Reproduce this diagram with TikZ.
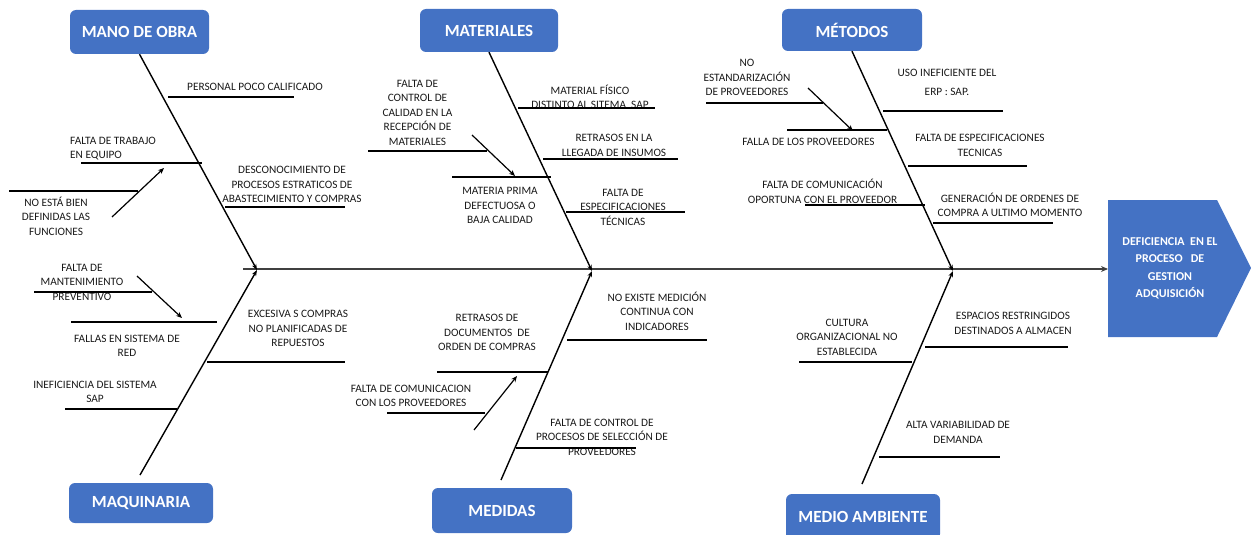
\documentclass[tikz,border=0pt]{standalone}
\usepackage{fontspec}
\setmainfont{Carlito}
\usetikzlibrary{arrows.meta,calc}
\definecolor{boxblue}{HTML}{4472C4}
\definecolor{spinegray}{HTML}{404040}
\begin{document}
\begin{tikzpicture}[x=1pt,y=-1pt,
  catbox/.style={rounded corners=6pt, fill=boxblue, text=white, inner sep=0pt,
    font=\fontsize{17}{20}\selectfont\bfseries},
  lbl/.style={align=center, inner sep=0pt, text=black!90, font=\fontsize{11.3}{14.5}\selectfont},
  cline/.style={line width=1.2pt, black},
  bone/.style={line width=1.4pt, black, -{Stealth[length=6pt,width=4.5pt]}},
  subarrow/.style={line width=1.2pt, black, -{Stealth[length=6pt,width=5pt]}},
  spine/.style={line width=2.5pt, spinegray, -{Stealth[length=7pt,width=6pt]}}
]
\useasboundingbox (0,0) rectangle (1251,535);

% category boxes
\node[catbox, minimum width=139pt, minimum height=44pt] (mano) at (139.5,32) {MANO DE OBRA};
\node[catbox, minimum width=138pt, minimum height=43pt] (mat) at (489,30.5) {MATERIALES};
\node[catbox, minimum width=140pt, minimum height=42pt] (met) at (852,30) {MÉTODOS};
\node[catbox, minimum width=144pt, minimum height=40pt] (maq) at (141,503) {MAQUINARIA};
\node[catbox, minimum width=140pt, minimum height=45pt] (med) at (502,510.5) {MEDIDAS};
\node[catbox, minimum width=154pt, minimum height=46pt] (amb) at (863,517) {MEDIO AMBIENTE};

% head
\fill[boxblue] (1108,200) -- (1217,200) -- (1251,268) -- (1217,337) -- (1108,337) -- cycle;
\node[align=center, inner sep=0pt, text=white, font=\fontsize{12}{17.5}\selectfont\bfseries] (head) at (1170,268.5)
  {DEFICIENCIA~ EN EL\\PROCESO~~ DE\\GESTION\\ADQUISICIÓN};

% spine
\coordinate (spineL) at (243,269);
\coordinate (headL) at (1108,269);
\coordinate (j1) at (257,270);
\coordinate (j2) at (592,271);
\coordinate (j3) at (953,271);
\draw[spine] (spineL) -- (headL);

% bones
\coordinate (maqT) at (140,475);
\coordinate (medT) at (501,480);
\coordinate (ambT) at (862,484);
\draw[bone] (mano.south) -- (j1);
\draw[bone] (maqT) -- (j1);
\draw[bone] (mat.south) -- (j2);
\draw[bone] (medT) -- (j2);
\draw[bone] (met.south) -- (j3);
\draw[bone] (ambT) -- (j3);

% ---- MANO DE OBRA ----
\node[lbl] (mo1) at (255,87) {PERSONAL POCO CALIFICADO};
\draw[cline] (168,97) -- (294,97);
\node[lbl, align=left, anchor=west] (mo2) at (70,148.5) {FALTA DE TRABAJO\\EN EQUIPO};
\draw[cline] (81,163) -- (202,163);
\node[lbl] (mo3) at (292,184.5) {DESCONOCIMIENTO DE\\PROCESOS ESTRATICOS DE\\ABASTECIMIENTO Y COMPRAS};
\draw[cline] (225,207) -- (345,207);
\node[lbl] (mo4) at (56,216) {NO ESTÁ BIEN\\DEFINIDAS LAS\\FUNCIONES};
\draw[cline] (9,191) -- (138,191);
\coordinate (mo4a) at (112,217);
\coordinate (mo4b) at (164,168);
\draw[subarrow] (mo4a) -- (mo4b);
\node[lbl] (mo5) at (82,282) {FALTA DE\\MANTENIMIENTO\\PREVENTIVO};
\draw[cline] (34,292) -- (152,292);
\coordinate (mo5a) at (137,276);
\coordinate (mo5b) at (182,318);
\draw[subarrow] (mo5a) -- (mo5b);
\node[lbl] (mo6) at (127,346) {FALLAS EN SISTEMA DE\\RED};
\draw[cline] (71,322) -- (217,322);
\node[lbl] (mo7) at (298,328.5) {EXCESIVA S COMPRAS\\NO PLANIFICADAS DE\\REPUESTOS};
\draw[cline] (207,362) -- (345,362);
\node[lbl] (mo8) at (95,392) {INEFICIENCIA DEL SISTEMA\\SAP};
\draw[cline] (65,409) -- (177,409);

% ---- MATERIALES ----
\node[lbl] (ma1) at (590,97) {MATERIAL FÍSICO\\DISTINTO AL SITEMA~ SAP};
\draw[cline] (518,108) -- (655,108);
\node[lbl] (ma2) at (614,145.5) {RETRASOS EN LA\\LLEGADA DE INSUMOS};
\draw[cline] (543,159) -- (678,159);
\node[lbl] (ma3) at (417.5,112.5) {FALTA DE\\CONTROL DE\\CALIDAD EN LA\\RECEPCIÓN DE\\MATERIALES};
\draw[cline] (368,151) -- (487,151);
\coordinate (ma3a) at (472,135);
\coordinate (ma3b) at (515,176);
\draw[subarrow] (ma3a) -- (ma3b);
\node[lbl] (ma4) at (500,205.5) {MATERIA PRIMA\\DEFECTUOSA O\\BAJA CALIDAD};
\draw[cline] (452,177) -- (551,177);
\node[lbl] (ma5) at (623,207) {FALTA DE\\ESPECIFICACIONES\\TÉCNICAS};
\draw[cline] (566,212) -- (685,212);

% ---- MEDIDAS ----
\node[lbl] (me1) at (657,311) {NO EXISTE MEDICIÓN\\CONTINUA CON\\INDICADORES};
\draw[cline] (567,340) -- (707,340);
\node[lbl] (me2) at (487,332.5) {RETRASOS DE\\DOCUMENTOS~ DE\\ORDEN DE COMPRAS};
\draw[cline] (437,372) -- (548,372);
\node[lbl] (me3) at (411,396) {FALTA DE COMUNICACION\\CON LOS PROVEEDORES};
\draw[cline] (387,413) -- (485,413);
\coordinate (me3a) at (474,430);
\coordinate (me3b) at (517,376);
\draw[subarrow] (me3a) -- (me3b);
\node[lbl] (me4) at (602,437) {FALTA DE CONTROL DE\\PROCESOS DE SELECCIÓN DE\\PROVEEDORES};
\draw[cline] (516,448) -- (636,448);

% ---- METODOS ----
\node[lbl] (mt1) at (747,77.5) {NO\\ESTANDARIZACIÓN\\DE PROVEEDORES};
\draw[cline] (706,103) -- (823,103);
\coordinate (mt1a) at (808,88);
\coordinate (mt1b) at (853,131);
\draw[subarrow] (mt1a) -- (mt1b);
\node[lbl] (mt2) at (808.5,142) {FALLA DE LOS PROVEEDORES};
\draw[cline] (787,130) -- (887,130);
\node[lbl] (mt3) at (947,82.5) {USO INEFICIENTE DEL\\[4.5pt]ERP : SAP.};
\draw[cline] (883,111) -- (1003,111);
\node[lbl] (mt4) at (980,145.5) {FALTA DE ESPECIFICACIONES\\TECNICAS};
\draw[cline] (908,166) -- (1027,166);
\node[lbl] (mt5) at (822.5,191.5) {FALTA DE COMUNICACIÓN\\OPORTUNA CON EL PROVEEDOR};
\draw[cline] (805,205) -- (925,205);
\node[lbl] (mt6) at (1010,205) {GENERACIÓN DE ORDENES DE\\COMPRA A ULTIMO MOMENTO};
\draw[cline] (933,223) -- (1053,223);

% ---- MEDIO AMBIENTE ----
\node[lbl] (mb1) at (1013,323.5) {ESPACIOS RESTRINGIDOS\\DESTINADOS A ALMACEN};
\draw[cline] (925,347) -- (1068,347);
\node[lbl] (mb2) at (847,337) {CULTURA\\ORGANIZACIONAL NO\\ESTABLECIDA};
\draw[cline] (799,362) -- (912,362);
\node[lbl] (mb3) at (958,432.5) {ALTA VARIABILIDAD DE\\DEMANDA};
\draw[cline] (879,457) -- (1000,457);
\end{tikzpicture}
\end{document}
